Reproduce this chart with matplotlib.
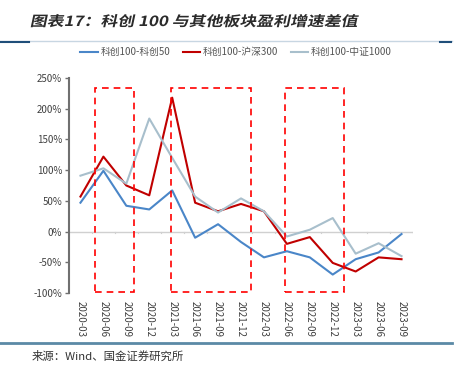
import numpy as np
import matplotlib.pyplot as plt
from matplotlib.patches import Rectangle, PathPatch
from matplotlib.lines import Line2D
from matplotlib.textpath import TextPath
from matplotlib.font_manager import FontProperties
from matplotlib.transforms import Affine2D

plt.rcParams['font.family'] = ['Noto Sans CJK SC', 'DejaVu Sans']

# Data
dates = ["2020-03", "2020-06", "2020-09", "2020-12", "2021-03", "2021-06", "2021-09", "2021-12",
         "2022-03", "2022-06", "2022-09", "2022-12", "2023-03", "2023-06", "2023-09"]
vs_kc50 = [47, 99, 42, 36, 67, -10, 12, -17, -42, -32, -42, -70, -45, -34, -4]
vs_hs300 = [57, 122, 75, 59, 218, 47, 33, 45, 33, -20, -9, -51, -65, -42, -45]
vs_zz1000 = [91, 103, 78, 184, 120, 57, 31, 54, 33, -8, 3, 22, -36, -19, -40]
names = ["科创100-科创50", "科创100-沪深300", "科创100-中证1000"]
colors = ["#4a86c8", "#c00000", "#a8bfcc"]

# highlighted periods (x range in category units)
boxes = [(0.65, 2.35), (3.96, 7.44), (8.94, 11.5)]

W, H = 458, 372
fig = plt.figure(figsize=(W / 100, H / 100), dpi=100)
ax = fig.add_axes([69 / W, 1 - 293 / H, (413 - 69) / W, (293 - 78) / H])

x = np.arange(len(dates))
for vals, c, n in zip([vs_kc50, vs_hs300, vs_zz1000], colors, names):
    ax.plot(x, vals, color=c, lw=1.5, label=n, zorder=3)

for x0, x1 in boxes:
    ax.add_patch(Rectangle((x0, -99), x1 - x0, 332, fill=False, ec="#ff0000", lw=1.2,
                           ls=(0, (4, 3)), clip_on=False, zorder=4))

ax.set_xlim(-0.5, len(dates) - 0.5)
ax.set_ylim(-100, 250)
ax.set_yticks(np.arange(-100, 251, 50))
ax.set_yticklabels([f"{v}%" for v in range(-100, 251, 50)], fontsize=7, color="#404040")

# zero line with category tick marks
ax.axhline(0, color="#d0d0d0", lw=1, zorder=1)
for b in np.arange(0.5, len(dates), 1):
    ax.plot([b, b], [0, -3], color="#d0d0d0", lw=0.8, zorder=1)

ax.set_xticks(x)
ax.set_xticklabels(dates, rotation=270, fontsize=7, color="#404040")
ax.tick_params(axis="x", length=0, pad=6)
ax.tick_params(axis="y", length=3, width=1, color="#707070", pad=2)
for s in ["top", "right", "bottom"]:
    ax.spines[s].set_visible(False)
ax.spines["left"].set_color("#707070")
ax.spines["left"].set_linewidth(1.5)

# legend
handles = [Line2D([], [], color=c, lw=1.5) for c in colors]
fig.legend(handles, names, loc="center", bbox_to_anchor=(236 / W, 1 - 52 / H), ncol=3,
           frameon=False, fontsize=7, handlelength=1.8, columnspacing=1.3, handletextpad=0.25,
           labelcolor="#555555")

# title: bold, slanted like the original
title = "图表17：科创 100 与其他板块盈利增速差值"
tp = TextPath((0, 0), title, size=14, prop=FontProperties(family="Noto Sans CJK SC", weight="bold"))
ext = tp.get_extents()
sx = 326 / ext.width
tr = Affine2D().translate(-ext.x0, 0).scale(sx, 1).skew_deg(12, 0).translate(31, H - 26)
fig.add_artist(PathPatch(tp, transform=tr, fc="#2b2b2b", ec="none"))

fig.add_artist(Line2D([0, 452 / W], [1 - 41 / H] * 2, color="#c8d6e2", lw=1))
fig.add_artist(Line2D([0, 29 / W], [1 - 41.5 / H] * 2, color="#1f4e79", lw=1.5))
fig.add_artist(Line2D([440 / W, 451 / W], [1 - 41.5 / H] * 2, color="#1f4e79", lw=1.5))
fig.add_artist(Line2D([0, 452 / W], [1 - 343 / H] * 2, color="#5b8aa6", lw=2))
fig.text(32 / W, 1 - 356 / H, "来源：Wind、国金证券研究所", fontsize=8.2, color="#333333",
         va="center", ha="left")

fig.savefig("out.png", dpi=100)
